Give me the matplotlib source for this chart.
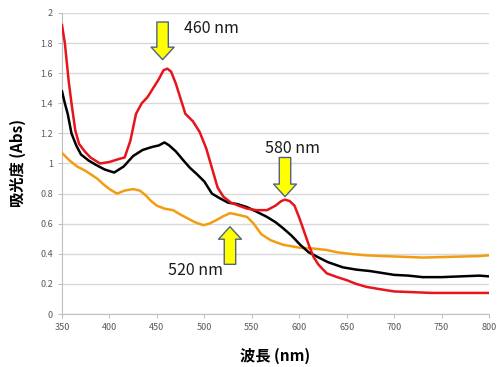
import matplotlib
matplotlib.use("Agg")
import matplotlib.pyplot as plt

plt.rcParams["font.family"] = ["Noto Sans CJK JP", "DejaVu Sans"]

red_nm = [350, 353, 357, 360, 364, 368, 374, 380, 390, 400, 410, 416, 422, 428, 434, 440,
          446, 452, 457, 461, 465, 470, 475, 480, 488, 495, 502, 508, 514, 520, 528, 536,
          545, 555, 566, 575, 581, 585, 590, 595, 600, 605, 610, 615, 620, 629, 640, 650,
          660, 671, 685, 700, 720, 740, 760, 780, 800]
red_abs = [1.92, 1.80, 1.55, 1.40, 1.22, 1.13, 1.08, 1.04, 1.00, 1.01, 1.03, 1.04, 1.15, 1.33,
           1.40, 1.44, 1.50, 1.56, 1.62, 1.63, 1.61, 1.53, 1.43, 1.33, 1.28, 1.21, 1.10, 0.97,
           0.84, 0.78, 0.74, 0.72, 0.70, 0.69, 0.69, 0.72, 0.75, 0.76, 0.75, 0.72, 0.64, 0.55,
           0.46, 0.38, 0.33, 0.27, 0.245, 0.225, 0.20, 0.18, 0.165, 0.15, 0.145, 0.14, 0.14,
           0.14, 0.14]

black_nm = [350, 353, 356, 360, 365, 370, 378, 386, 395, 405, 415, 425, 435, 445, 452, 458,
            463, 470, 478, 485, 492, 500, 508, 516, 525, 535, 545, 555, 566, 575, 583, 592,
            601, 610, 619, 630, 646, 660, 675, 690, 700, 715, 730, 750, 770, 790, 800]
black_abs = [1.48, 1.40, 1.33, 1.20, 1.12, 1.06, 1.02, 0.99, 0.96, 0.94, 0.98, 1.05, 1.09,
             1.11, 1.12, 1.14, 1.12, 1.08, 1.02, 0.97, 0.93, 0.88, 0.80, 0.77, 0.74, 0.73,
             0.71, 0.68, 0.645, 0.61, 0.57, 0.52, 0.46, 0.41, 0.38, 0.345, 0.31, 0.295, 0.285,
             0.27, 0.26, 0.255, 0.245, 0.245, 0.25, 0.255, 0.25]

orange_nm = [350, 358, 366, 375, 387, 394, 400, 408, 416, 425, 432, 438, 444, 450, 458, 467,
             475, 481, 490, 499, 505, 513, 520, 527, 535, 545, 552, 560, 570, 583, 601, 615,
             629, 640, 653, 670, 688, 710, 730, 760, 790, 800]
orange_abs = [1.07, 1.02, 0.98, 0.95, 0.90, 0.86, 0.83, 0.80, 0.82, 0.83, 0.82, 0.79, 0.75,
              0.72, 0.70, 0.69, 0.66, 0.64, 0.61, 0.59, 0.60, 0.625, 0.65, 0.67, 0.66, 0.645,
              0.60, 0.53, 0.49, 0.46, 0.44, 0.435, 0.425, 0.41, 0.40, 0.39, 0.385, 0.38, 0.375,
              0.38, 0.385, 0.39]

# (label, arrow tail, arrow tip, text position)
peaks = [
    ("460 nm", (456, 1.94), (456, 1.69), (507, 1.90)),
    ("580 nm", (585, 1.04), (585, 0.78), (593, 1.10)),
    ("520 nm", (527, 0.33), (527, 0.58), (491, 0.29)),
]

fig = plt.figure(figsize=(4.98, 3.67), dpi=100)
ax = fig.add_axes([0.1245, 0.1444, 0.8575, 0.8202])

ax.plot(orange_nm, orange_abs, color="#f39c12", lw=1.8, zorder=3)
ax.plot(black_nm, black_abs, color="black", lw=1.8, zorder=4)
ax.plot(red_nm, red_abs, color="#e8141c", lw=1.8, zorder=5)

for label, tail, tip, txt in peaks:
    ax.annotate("", xy=tip, xytext=tail,
                arrowprops=dict(arrowstyle="simple,tail_width=0.55,head_width=1.1,head_length=0.6",
                                mutation_scale=15, fc="#ffff00", ec="#4f6283", lw=1,
                                shrinkA=0, shrinkB=0), zorder=6)
    ax.text(txt[0], txt[1], label, fontsize=11.5, ha="center", va="center",
            color="#1a1a1a", zorder=7)

ax.set_xlim(350, 800)
ax.set_ylim(0, 2)
ax.set_xticks(range(350, 801, 50))
ax.set_yticks([i * 0.2 for i in range(11)])
ax.set_yticklabels(["0", "0.2", "0.4", "0.6", "0.8", "1", "1.2", "1.4", "1.6", "1.8", "2"])
ax.tick_params(labelsize=6.5, labelcolor="#595959", color="#bfbfbf", length=3)
ax.grid(axis="y", color="#d9d9d9", lw=1)
ax.set_axisbelow(True)
for s in ["top", "right"]:
    ax.spines[s].set_visible(False)
for s in ["left", "bottom"]:
    ax.spines[s].set_color("#bfbfbf")

ax.set_xlabel("波長 (nm)", fontsize=11, fontweight="bold", labelpad=11)
ax.set_ylabel("吸光度 (Abs)", fontsize=11, fontweight="bold", labelpad=10)

fig.savefig("out.png", dpi=100)
